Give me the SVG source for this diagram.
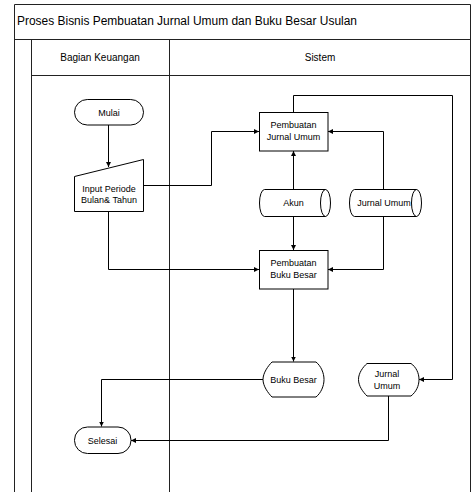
<svg xmlns="http://www.w3.org/2000/svg" width="473" height="492" viewBox="0 0 473 492">
<style>
.t{font-family:"Liberation Sans",Arial,sans-serif;font-size:9px;fill:#000;text-anchor:middle}
.h{font-family:"Liberation Sans",Arial,sans-serif;font-size:10px;fill:#000;text-anchor:middle}
.s{fill:#fff;stroke:#000;stroke-width:1}
.c{fill:none;stroke:#000;stroke-width:1}
.f{fill:none;stroke:#222;stroke-width:1}
</style>
<defs>
<marker id="a" viewBox="0 0 10 10" refX="10" refY="5" markerWidth="5" markerHeight="5" orient="auto" markerUnits="userSpaceOnUse">
<path d="M0,0 L10,5 L0,10 Z" fill="#000"/>
</marker>
</defs>
<rect width="473" height="492" fill="#fff"/>
<g id="frame">
<path class="f" d="M14.5,492 V4.5 H470.5 V492"/>
<path class="f" d="M14.5,39.5 H470.5"/>
<path class="f" d="M31.5,39.5 V492"/>
<path class="f" d="M169.5,39.5 V492"/>
<path class="f" d="M31.5,75.5 H470.5"/>
<text x="17" y="25" style="font-family:'Liberation Sans',Arial,sans-serif;font-size:12.5px" textLength="340" lengthAdjust="spacingAndGlyphs">Proses Bisnis Pembuatan Jurnal Umum dan Buku Besar Usulan</text>
<text class="h" x="100" y="61">Bagian Keuangan</text>
<text class="h" x="320" y="61">Sistem</text>
</g>
<g id="connectors">
<path class="c" d="M108.5,125 V167" marker-end="url(#a)"/>
<path class="c" d="M144,185.5 H211.5 V131.5 H259" marker-end="url(#a)"/>
<path class="c" d="M108.5,212 V269.5 H259" marker-end="url(#a)"/>
<path class="c" d="M293.5,189 V151" marker-end="url(#a)"/>
<path class="c" d="M293.5,216 V250" marker-end="url(#a)"/>
<path class="c" d="M383.5,189 V131.5 H328" marker-end="url(#a)"/>
<path class="c" d="M383.5,216 V269.5 H328" marker-end="url(#a)"/>
<path class="c" d="M293.5,289 V361.5" marker-end="url(#a)"/>
<path class="c" d="M293.5,112 V95.5 H452.5 V379.5 H419" marker-end="url(#a)"/>
<path class="c" d="M263,379.5 H101.5 V426.5" marker-end="url(#a)"/>
<path class="c" d="M388.5,396 V440.5 H131" marker-end="url(#a)"/>
</g>
<g id="mulai">
<rect class="s" x="74.5" y="99.5" width="69" height="25.5" rx="12.75"/>
<text class="t" x="109" y="115.5">Mulai</text>
</g>
<g id="input">
<path class="s" d="M74.5,176.5 L143.5,159.5 V211.5 H74.5 Z"/>
<text class="t" x="109" y="192">Input Periode</text>
<text class="t" x="109" y="203">Bulan&amp;  Tahun</text>
</g>
<g id="pju">
<rect class="s" x="259.5" y="112.5" width="68.5" height="38.5"/>
<text class="t" x="293.5" y="128">Pembuatan</text>
<text class="t" x="293.5" y="140">Jurnal Umum</text>
</g>
<g id="akun">
<path class="s" d="M264.5,189.5 H325.5 A5,13.5 0 0 1 325.5,216.5 H264.5 A5,13.5 0 0 1 264.5,189.5 Z"/>
<path class="c" d="M325.5,189.5 A5,13.5 0 0 0 325.5,216.5"/>
<text class="t" x="293.5" y="206">Akun</text>
</g>
<g id="jurnal-umum-db">
<path class="s" d="M354.5,189.5 H416.5 A5,13.5 0 0 1 416.5,216.5 H354.5 A5,13.5 0 0 1 354.5,189.5 Z"/>
<path class="c" d="M416.5,189.5 A5,13.5 0 0 0 416.5,216.5"/>
<text class="t" x="384" y="206">Jurnal Umum</text>
</g>
<g id="pbb">
<rect class="s" x="259.5" y="250.5" width="68.5" height="38.5"/>
<text class="t" x="293.5" y="266">Pembuatan</text>
<text class="t" x="293.5" y="278">Buku Besar</text>
</g>
<g id="buku-besar">
<path class="s" d="M272,362 H316 C321,366 324,373 324,379.5 C324,386 321,393 316,397 H272 C268,393 263,386 263,379.5 C263,373 268,366 272,362 Z"/>
<text class="t" x="293.5" y="383">Buku Besar</text>
</g>
<g id="jurnal-umum-doc">
<path class="s" d="M367,363.5 H411 C416,367 419,373 419,379.5 C419,386 416,392 411,396 H367 C363,392 358.5,386 358.5,379.5 C358.5,373 363,367 367,363.5 Z"/>
<text class="t" x="387" y="377">Jurnal</text>
<text class="t" x="387" y="389">Umum</text>
</g>
<g id="selesai">
<rect class="s" x="74.5" y="427" width="56.5" height="26.5" rx="13"/>
<text class="t" x="102.5" y="443.5">Selesai</text>
</g>
</svg>
